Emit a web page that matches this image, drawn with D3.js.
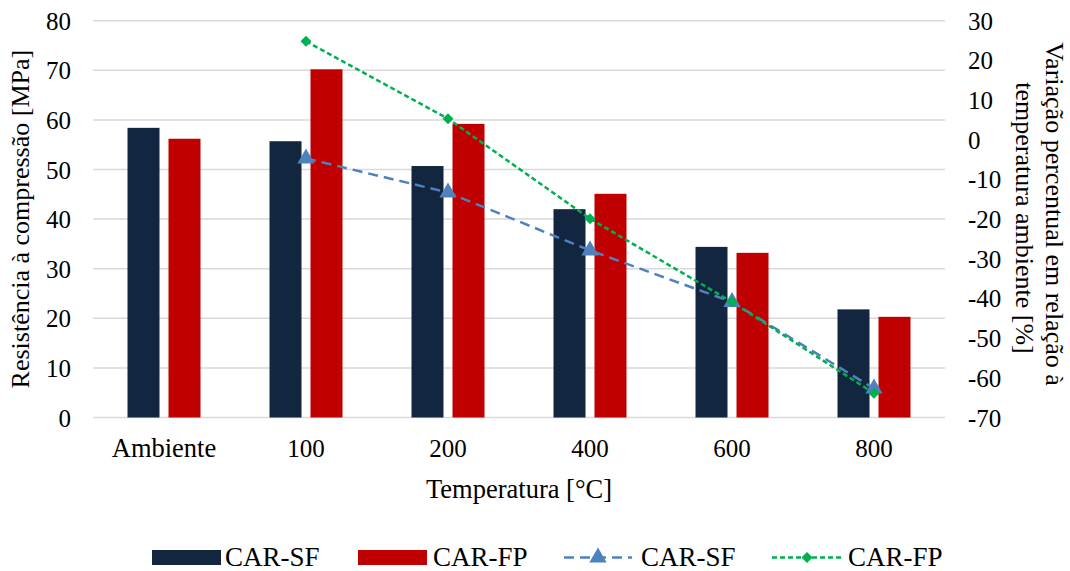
<!DOCTYPE html>
<html>
<head>
<meta charset="utf-8">
<script src="https://cdn.jsdelivr.net/npm/d3@7"></script>
<style>
  body { margin: 0; background: #fff; }
  text { font-family: "Liberation Serif", "Times New Roman", serif; fill: #000; }
</style>
</head>
<body>
<script>
// data
var categories = ["Ambiente", "100", "200", "400", "600", "800"];
var barSF = [58.4, 55.7, 50.7, 42.0, 34.4, 21.8];
var barFP = [56.2, 70.2, 59.2, 45.1, 33.2, 20.3];
var varSF = [null, -4.7, -13.3, -27.9, -40.9, -62.7];
var varFP = [null, 24.8, 5.3, -19.9, -40.9, -63.9];
var leftTicks = [0, 10, 20, 30, 40, 50, 60, 70, 80];
var rightTicks = [30, 20, 10, 0, -10, -20, -30, -40, -50, -60, -70];

var w = 1070, h = 571;
var pLeft = 93, pRight = 945, pTop = 20.7, pBottom = 417.5;
var fs = "25px", fsw = "26.5px";

var c_sf = "#13263f", c_fp = "#c00000", c_lsf = "#4f81bd", c_lfp = "#00b050";

var svg = d3.select("body").append("svg")
  .attr("width", w)
  .attr("height", h);

var x = d3.scaleBand().domain(categories).range([pLeft, pRight]);
var yL = d3.scaleLinear().domain([0, 80]).range([pBottom, pTop]);
var yR = d3.scaleLinear().domain([-70, 30]).range([pBottom, pTop]);

// grid
svg.append("g").selectAll("line").data(leftTicks).enter().append("line")
  .attr("x1", pLeft).attr("x2", pRight)
  .attr("y1", function(d) { return yL(d); })
  .attr("y2", function(d) { return yL(d); })
  .attr("stroke", "#d9d9d9")
  .attr("stroke-width", 1.5);

var plain = function(d) { return String(d); };

// left axis
var axL = svg.append("g")
  .attr("transform", "translate(" + (pLeft - 22) + ",0)")
  .call(d3.axisLeft(yL).tickValues(leftTicks).tickFormat(plain).tickSize(0).tickPadding(0));
axL.select(".domain").remove();
axL.selectAll("text").style("font-size", fs).style("font-family", "Liberation Serif").attr("dy", "0.34em");

// right axis
var axR = svg.append("g")
  .attr("transform", "translate(" + (pRight + 23) + ",0)")
  .call(d3.axisRight(yR).tickValues(rightTicks).tickFormat(plain).tickSize(0).tickPadding(0));
axR.select(".domain").remove();
axR.selectAll("text").style("font-size", fs).style("font-family", "Liberation Serif").attr("dy", "0.34em");

// bottom axis
var axB = svg.append("g")
  .attr("transform", "translate(0,457)")
  .call(d3.axisBottom(x).tickSize(0).tickPadding(0));
axB.select(".domain").remove();
axB.selectAll("text").style("font-size", function(d) { return isNaN(+d) ? fsw : fs; })
  .style("font-family", "Liberation Serif").attr("y", 0).attr("dy", 0);

// bars
var bw = 32, gap = 9;
svg.append("g").selectAll("rect").data(barSF).enter().append("rect")
  .attr("x", function(d, i) { return x(categories[i]) + x.bandwidth() / 2 - gap / 2 - bw; })
  .attr("y", function(d) { return yL(d); })
  .attr("width", bw)
  .attr("height", function(d) { return yL(0) - yL(d); })
  .attr("fill", c_sf);
svg.append("g").selectAll("rect").data(barFP).enter().append("rect")
  .attr("x", function(d, i) { return x(categories[i]) + x.bandwidth() / 2 + gap / 2; })
  .attr("y", function(d) { return yL(d); })
  .attr("width", bw)
  .attr("height", function(d) { return yL(0) - yL(d); })
  .attr("fill", c_fp);

// lines
function pts(arr) {
  var out = [];
  arr.forEach(function(v, i) {
    if (v !== null) out.push([x(categories[i]) + x.bandwidth() / 2, yR(v)]);
  });
  return out;
}
var line = d3.line();
var pSF = pts(varSF), pFP = pts(varFP);

svg.append("path").attr("d", line(pSF))
  .attr("fill", "none").attr("stroke", c_lsf)
  .attr("stroke-width", 2.5).attr("stroke-dasharray", "10,6");
svg.append("path").attr("d", line(pFP))
  .attr("fill", "none").attr("stroke", c_lfp)
  .attr("stroke-width", 2.5).attr("stroke-dasharray", "5,3");

var tri = d3.symbol().type(d3.symbolTriangle).size(130);
var dia = d3.symbol().type(d3.symbolSquare).size(60);

svg.append("g").selectAll("path").data(pSF).enter().append("path")
  .attr("d", tri)
  .attr("transform", function(d) { return "translate(" + d[0] + "," + d[1] + ")"; })
  .attr("fill", c_lsf);
svg.append("g").selectAll("path").data(pFP).enter().append("path")
  .attr("d", dia)
  .attr("transform", function(d) { return "translate(" + d[0] + "," + d[1] + ") rotate(45)"; })
  .attr("fill", c_lfp);

// axis titles
svg.append("text")
  .attr("transform", "translate(29," + ((pTop + pBottom) / 2) + ") rotate(-90)")
  .attr("text-anchor", "middle")
  .style("font-size", "26px")
  .text("Resistência à compressão [MPa]");

svg.append("text")
  .attr("transform", "translate(1046,214) rotate(90)")
  .attr("text-anchor", "middle")
  .style("font-size", "26px")
  .text("Variação percentual em relação à");
svg.append("text")
  .attr("transform", "translate(1016,218) rotate(90)")
  .attr("text-anchor", "middle")
  .style("font-size", "26px")
  .text("temperatura ambiente [%]");

svg.append("text")
  .attr("x", (pLeft + pRight) / 2)
  .attr("y", 498)
  .attr("text-anchor", "middle")
  .style("font-size", fsw)
  .text("Temperatura [°C]");

// legend
var ly = 557.5, lt = 566;
var leg = svg.append("g");
leg.append("rect").attr("x", 152).attr("y", 550).attr("width", 69).attr("height", 15).attr("fill", c_sf);
leg.append("text").attr("x", 225).attr("y", lt).style("font-size", "27px").text("CAR-SF");
leg.append("rect").attr("x", 358).attr("y", 550).attr("width", 69).attr("height", 15).attr("fill", c_fp);
leg.append("text").attr("x", 433).attr("y", lt).style("font-size", "27px").text("CAR-FP");
leg.append("line").attr("x1", 564).attr("x2", 632).attr("y1", ly).attr("y2", ly)
  .attr("stroke", c_lsf).attr("stroke-width", 2.5).attr("stroke-dasharray", "10,6");
leg.append("path").attr("d", tri).attr("transform", "translate(598," + ly + ")").attr("fill", c_lsf);
leg.append("text").attr("x", 641).attr("y", lt).style("font-size", "27px").text("CAR-SF");
leg.append("line").attr("x1", 772).attr("x2", 842).attr("y1", ly).attr("y2", ly)
  .attr("stroke", c_lfp).attr("stroke-width", 2.5).attr("stroke-dasharray", "5,3");
leg.append("path").attr("d", dia).attr("transform", "translate(807," + ly + ") rotate(45)").attr("fill", c_lfp);
leg.append("text").attr("x", 848).attr("y", lt).style("font-size", "27px").text("CAR-FP");
</script>
</body>
</html>
